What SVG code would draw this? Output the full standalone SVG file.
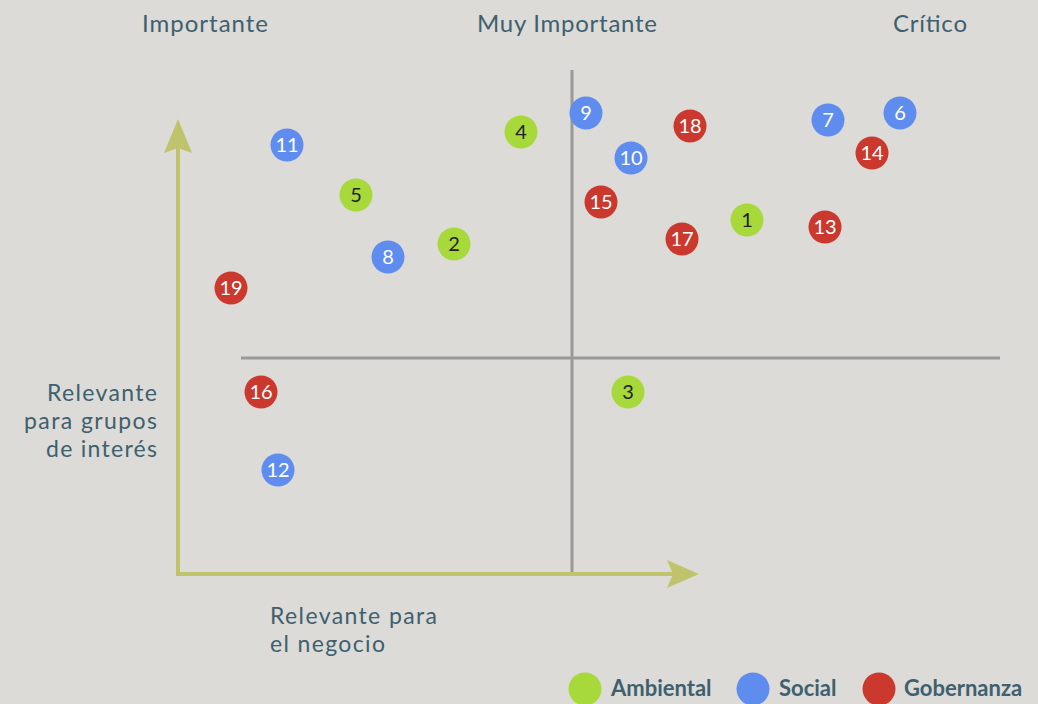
<svg xmlns="http://www.w3.org/2000/svg" width="1038" height="704" viewBox="0 0 1038 704">
<style>
.lbl{font-family:Lato,"Liberation Sans",sans-serif;fill:#3e606f;font-size:23px}
.hdr{font-family:Lato,"Liberation Sans",sans-serif;fill:#3e606f;font-size:24px}
.leg{font-family:Lato,"Liberation Sans",sans-serif;fill:#3e606f;font-size:22px;font-weight:bold}
.num{font-family:Lato,"Liberation Sans",sans-serif;font-size:20px;text-anchor:middle}
.g circle{fill:#a8d93a}.g text{fill:#222}
.b circle{fill:#5f8def}.b text{fill:#fff}
.r circle{fill:#cb382d}.r text{fill:#fff}
.axis{stroke:#bfc46c;stroke-width:4;fill:none}
.grid{stroke:#999;stroke-width:3;fill:none}
</style>
<rect width="1038" height="704" fill="#dcdbd7"/>
<g id="headers">
<text class="hdr" x="205" y="32" text-anchor="middle" textLength="126">Importante</text>
<text class="hdr" x="567" y="32" text-anchor="middle" textLength="180">Muy Importante</text>
<text class="hdr" x="930" y="32" text-anchor="middle" textLength="74">Crítico</text>
</g>
<g id="connectors">
<line class="grid" x1="572" y1="70" x2="572" y2="574"/>
<line class="grid" x1="241" y1="358" x2="1000" y2="358"/>
<line class="axis" x1="178" y1="576" x2="178" y2="140"/>
<polygon points="178,119 192,153 178,148 164,153" fill="#bfc46c"/>
<line class="axis" x1="176" y1="574" x2="680" y2="574"/>
<polygon points="699,574 667,588 673,574 667,560" fill="#bfc46c"/>
</g>
<g id="axis-labels">
<text class="lbl" x="157" y="401" text-anchor="end" textLength="110">Relevante</text>
<text class="lbl" x="157" y="429" text-anchor="end" textLength="133">para grupos</text>
<text class="lbl" x="157" y="457" text-anchor="end" textLength="111">de interés</text>
<text class="lbl" x="270" y="624" textLength="167">Relevante para</text>
<text class="lbl" x="270" y="652" textLength="115">el negocio</text>
</g>
<g id="n1" class="g"><circle cx="747" cy="220" r="16.5"/><text class="num" x="747" y="227">1</text></g>
<g id="n2" class="g"><circle cx="454" cy="244" r="16.5"/><text class="num" x="454" y="251">2</text></g>
<g id="n3" class="g"><circle cx="628" cy="392" r="16.5"/><text class="num" x="628" y="399">3</text></g>
<g id="n4" class="g"><circle cx="521" cy="132" r="16.5"/><text class="num" x="521" y="139">4</text></g>
<g id="n5" class="g"><circle cx="356" cy="195" r="16.5"/><text class="num" x="356" y="202">5</text></g>
<g id="n6" class="b"><circle cx="900" cy="113" r="16.5"/><text class="num" x="900" y="120">6</text></g>
<g id="n7" class="b"><circle cx="828" cy="120" r="16.5"/><text class="num" x="828" y="127">7</text></g>
<g id="n8" class="b"><circle cx="388" cy="257" r="16.5"/><text class="num" x="388" y="264">8</text></g>
<g id="n9" class="b"><circle cx="586" cy="113" r="16.5"/><text class="num" x="586" y="120">9</text></g>
<g id="n10" class="b"><circle cx="631" cy="158" r="16.5"/><text class="num" x="631" y="165">10</text></g>
<g id="n11" class="b"><circle cx="287" cy="145" r="16.5"/><text class="num" x="287" y="152">11</text></g>
<g id="n12" class="b"><circle cx="278" cy="470" r="16.5"/><text class="num" x="278" y="477">12</text></g>
<g id="n13" class="r"><circle cx="825" cy="227" r="16.5"/><text class="num" x="825" y="234">13</text></g>
<g id="n14" class="r"><circle cx="872" cy="153" r="16.5"/><text class="num" x="872" y="160">14</text></g>
<g id="n15" class="r"><circle cx="601" cy="202" r="16.5"/><text class="num" x="601" y="209">15</text></g>
<g id="n16" class="r"><circle cx="261" cy="392" r="16.5"/><text class="num" x="261" y="399">16</text></g>
<g id="n17" class="r"><circle cx="682" cy="239" r="16.5"/><text class="num" x="682" y="246">17</text></g>
<g id="n18" class="r"><circle cx="690" cy="126" r="16.5"/><text class="num" x="690" y="133">18</text></g>
<g id="n19" class="r"><circle cx="231" cy="288" r="16.5"/><text class="num" x="231" y="295">19</text></g>
<g id="legend">
<g class="g"><circle cx="585" cy="689" r="16.5"/></g>
<text class="leg" x="611" y="696">Ambiental</text>
<g class="b"><circle cx="753" cy="689" r="16.5"/></g>
<text class="leg" x="779" y="696">Social</text>
<g class="r"><circle cx="879" cy="689" r="16.5"/></g>
<text class="leg" x="904" y="696">Gobernanza</text>
</g>
</svg>
